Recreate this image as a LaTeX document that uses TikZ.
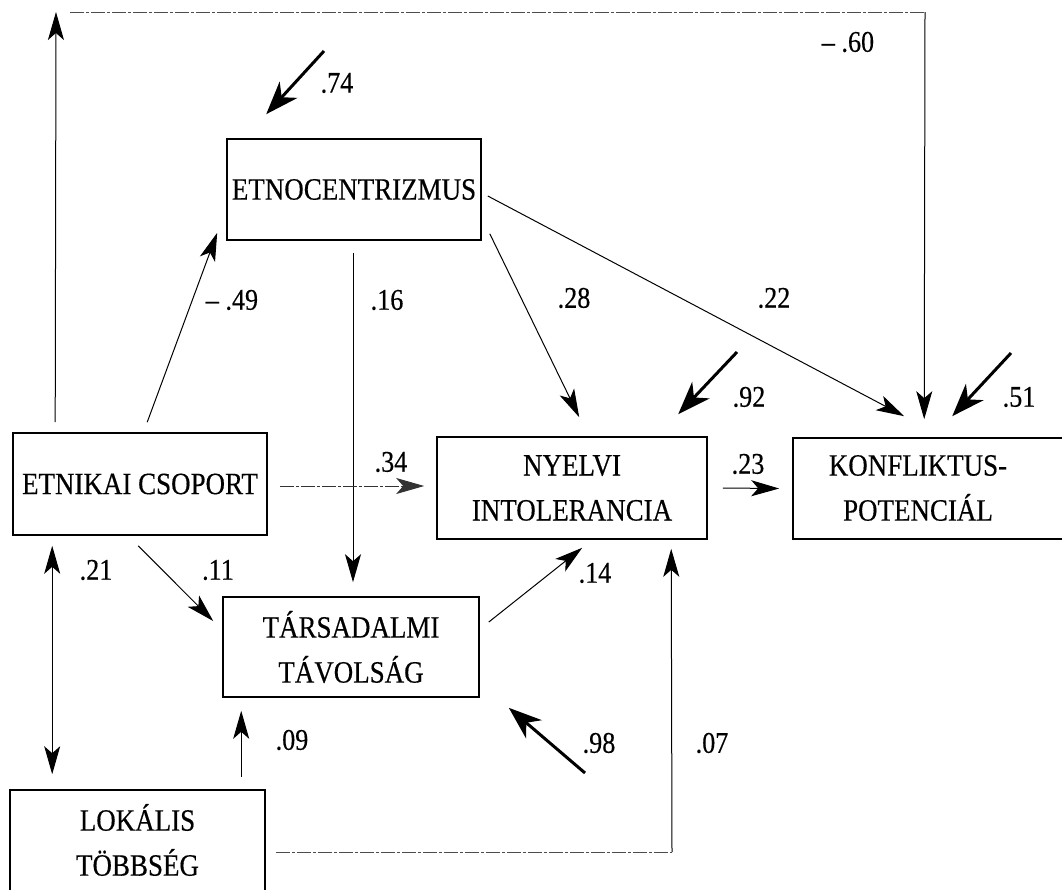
\documentclass[tikz,border=0pt]{standalone}
\usepackage{fontspec}
\setmainfont{Liberation Serif}[FakeStretch=0.87,FakeBold=0.4]
\usetikzlibrary{arrows.meta,calc}
\begin{document}
\begin{tikzpicture}[x=1pt,y=-1pt,
  box/.style={draw, line width=1.6pt, inner sep=0pt, align=center, font=\fontsize{31}{45}\selectfont},
  txt/.style={inner sep=0pt, align=center, font=\fontsize{31}{45}\selectfont},
  lbl/.style={inner sep=0pt, font=\fontsize{30}{32}\selectfont},
  conn/.style={line width=1pt, -{Stealth[length=28pt,width=16pt,inset=7pt]}},
  dline/.style={line width=1pt, black!70, dash pattern=on 14pt off 2pt on 3pt off 2pt},
  dconn/.style={conn, black!80, dash pattern=on 14pt off 2pt on 3pt off 2pt},
  dbl/.style={line width=1pt, {Stealth[length=28pt,width=16pt,inset=7pt]}-{Stealth[length=28pt,width=16pt,inset=7pt]}},
  err/.style={line width=3pt, -{Stealth[length=33pt,width=24pt,inset=10pt]}}
]
\clip (0,0) rectangle (1062,889);
\fill[white] (0,0) rectangle (1062,889);

% boxes
\node[box, minimum width=254pt, minimum height=101pt] (etno) at (354,189.5) {ETNOCENTRIZMUS};
\node[box, minimum width=254pt, minimum height=102pt] (etnik) at (140,484) {ETNIKAI CSOPORT};
\node[box, minimum width=270pt, minimum height=102pt] (nyelvi) at (572,488) {NYELVI\\INTOLERANCIA};
\node[box, minimum width=297pt, minimum height=101pt] (konf) at (941.5,488.5) {};
\node[txt] (konft) at (918,488) {KONFLIKTUS-\\POTENCIÁL};
\node[box, minimum width=256pt, minimum height=100pt] (tars) at (351,647) {TÁRSADALMI\\TÁVOLSÁG};
\node[box, minimum width=255pt, minimum height=120pt] (lok) at (137.5,850) {};
\node[txt] (lokt) at (137.5,840) {LOKÁLIS\\TÖBBSÉG};

% free ends
\coordinate (tl) at (56,12);
\coordinate (tlh) at (70,12);
\coordinate (tr) at (925,12);
\coordinate (s74) at (324,51);
\coordinate (s92) at (737,352);
\coordinate (s51) at (1011,353);
\coordinate (s98) at (585,773);
\coordinate (c07) at (672,852);

% top loop (-.60)
\draw[conn] ($(etnik.north west)+(43,-10)$) -- (tl);
\draw[dline] (tlh) -- (tr);
\draw[conn] (tr) -- ($(konf.north west)+(132,-18)$);

% error terms
\draw[err] (s74) -- ($(etno.north west)+(40,-24)$);
\draw[err] (s92) -- ($(nyelvi.north west)+(242,-22)$);
\draw[err] (s51) -- ($(konf.north west)+(160,-21)$);
\draw[err] (s98) -- ($(tars.south east)+(29,10)$);

% paths
\draw[conn] ($(etnik.north west)+(135,-10)$) -- ($(etno.south west)+(-9,-8)$);
\draw[conn] ($(etno.south)+(-1,12)$) -- ($(tars.north)+(2,-14)$);
\draw[conn] ($(etno.south east)+(8,-7)$) -- ($(nyelvi.north west)+(143,-19)$);
\draw[conn] ($(etno.east)+(6,6.5)$) -- ($(konf.north west)+(112,-21)$);
\draw[dconn] ($(etnik.east)+(12,2)$) -- ($(nyelvi.west)+(-12,-2)$);
\draw[conn] ($(nyelvi.east)+(15,0)$) -- ($(konf.west)+(-13,0)$);
\draw[dbl] ($(etnik.south west)+(40,10)$) -- ($(lok.north west)+(43,-15)$);
\draw[conn] ($(etnik.south west)+(126,10)$) -- ($(tars.west)+(-9,-26)$);
\draw[conn] ($(tars.east)+(9,-25)$) -- ($(nyelvi.south west)+(146,8)$);
\draw[conn] ($(lok.north west)+(232,-12)$) -- ($(tars.south west)+(19,13)$);
\draw[dline] ($(lok.east)+(10,2)$) -- (c07);
\draw[conn] (c07) -- ($(nyelvi.south west)+(235,9)$);

% labels
\node[lbl] (l60) at (848,42) {– .60};
\node[lbl] (l74) at (337,83) {.74};
\node[lbl] (l49) at (232,300) {– .49};
\node[lbl] (l16) at (387,300) {.16};
\node[lbl] (l28) at (574,298) {.28};
\node[lbl] (l22) at (774,298) {.22};
\node[lbl] (l92) at (749,397) {.92};
\node[lbl] (l51) at (1019,397) {.51};
\node[lbl] (l34) at (391,462) {.34};
\node[lbl] (l23) at (748,464) {.23};
\node[lbl] (l21) at (96,570) {.21};
\node[lbl] (l11) at (218,570) {.11};
\node[lbl] (l14) at (595,573) {.14};
\node[lbl] (l09) at (292,740) {.09};
\node[lbl] (l98) at (599,743) {.98};
\node[lbl] (l07) at (712,743) {.07};
\end{tikzpicture}
\end{document}
